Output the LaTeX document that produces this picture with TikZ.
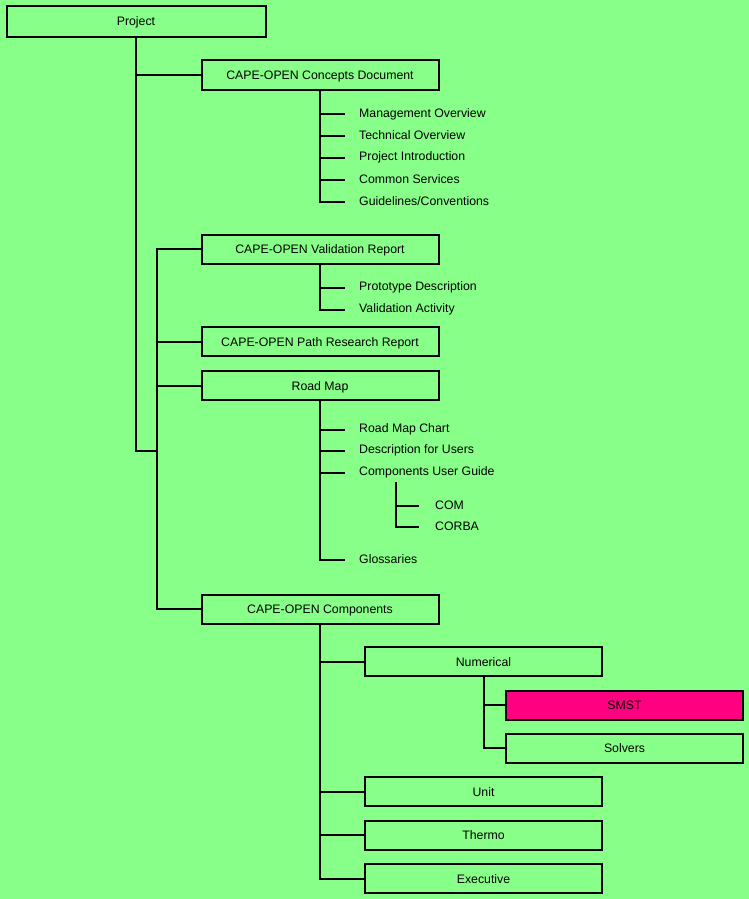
\documentclass[tikz,border=0pt]{standalone}
\usepackage{fontspec}
\setmainfont{Liberation Sans}
\definecolor{bg}{HTML}{88FF88}
\definecolor{pinkbox}{HTML}{FF0080}
\begin{document}
\begin{tikzpicture}[x=1pt,y=-1pt,
  every node/.style={font=\fontsize{12.3}{14}\selectfont},
  box/.style={draw=black,line width=2pt,minimum width=237pt,minimum height=29pt,inner sep=0pt,fill=bg,text depth=0pt,text height=0pt},
  lbl/.style={anchor=west,inner sep=0pt,yshift=-1pt},
  ln/.style={draw=black,line width=2pt,line join=miter}]
\fill[bg] (0,0) rectangle (749,899);
\useasboundingbox (0,0) rectangle (749,899);
% boxes
\node[box,minimum width=259pt,minimum height=31pt] (proj) at (136,21.5) {\raisebox{-4.5pt}{Project}};
\node[box] (cd) at (320,75) {\raisebox{-4.5pt}{CAPE-OPEN Concepts Document}};
\node[box] (vr) at (320,249) {\raisebox{-4.5pt}{CAPE-OPEN Validation Report}};
\node[box] (pr) at (320,341.5) {\raisebox{-4.5pt}{CAPE-OPEN Path Research Report}};
\node[box] (rm) at (320,385.5) {\raisebox{-4.5pt}{Road Map}};
\node[box] (cc) at (320,609) {\raisebox{-4.5pt}{CAPE-OPEN Components}};
\node[box] (num) at (483.5,661.5) {\raisebox{-4.5pt}{Numerical}};
\node[box,fill=pinkbox] (smst) at (624.5,705) {\raisebox{-4.5pt}{SMST}};
\node[box] (sol) at (624.5,748) {\raisebox{-4.5pt}{Solvers}};
\node[box] (unit) at (483.5,791.5) {\raisebox{-4.5pt}{Unit}};
\node[box] (therm) at (483.5,835) {\raisebox{-4.5pt}{Thermo}};
\node[box] (exec) at (483.5,878.5) {\raisebox{-4.5pt}{Executive}};
% labels
\node[lbl] (mo) at (359,113) {Management Overview};
\node[lbl] (to) at (359,134.5) {Technical Overview};
\node[lbl] (pi) at (359,156.5) {Project Introduction};
\node[lbl] (cs) at (359,178.5) {Common Services};
\node[lbl] (gc) at (359,200.5) {Guidelines/Conventions};
\node[lbl] (pd) at (359,286.5) {Prototype Description};
\node[lbl] (va) at (359,308.5) {Validation Activity};
\node[lbl] (rmc) at (359,428.5) {Road Map Chart};
\node[lbl] (du) at (359,449.5) {Description for Users};
\node[lbl] (cug) at (359,471.5) {Components User Guide};
\node[lbl] (com) at (435,504.5) {COM};
\node[lbl] (corba) at (435,525.5) {CORBA};
\node[lbl] (gl) at (359,558.5) {Glossaries};
% junction
\coordinate (j1) at (157,451);
\coordinate (j2) at (396,482);
% project tree
\draw[ln] (proj.south) |- (j1);
\draw[ln] (proj.south |- cd.west) -- (cd.west);
\draw[ln] (vr.west) -| (j1) |- (cc.west);
\draw[ln] (pr.west) -- (pr.west -| j1);
\draw[ln] (rm.west) -- (rm.west -| j1);
% concepts
\draw[ln] (cd.south) |- ([xshift=-14pt]gc.west);
\foreach \n in {mo,to,pi,cs}{\draw[ln] (cd.south |- \n.west) -- ([xshift=-14pt]\n.west);}
% validation
\draw[ln] (vr.south) |- ([xshift=-14pt]va.west);
\draw[ln] (vr.south |- pd.west) -- ([xshift=-14pt]pd.west);
% road map
\draw[ln] (rm.south) |- ([xshift=-14pt]gl.west);
\foreach \n in {rmc,du,cug}{\draw[ln] (rm.south |- \n.west) -- ([xshift=-14pt]\n.west);}
\draw[ln] (j2) |- ([xshift=-16pt]corba.west);
\draw[ln] (j2 |- com.west) -- ([xshift=-16pt]com.west);
% components
\draw[ln] (cc.south) |- (exec.west);
\foreach \n in {num,unit,therm}{\draw[ln] (cc.south |- \n.west) -- (\n.west);}
\draw[ln] (num.south) |- (sol.west);
\draw[ln] (num.south |- smst.west) -- (smst.west);
\end{tikzpicture}
\end{document}
